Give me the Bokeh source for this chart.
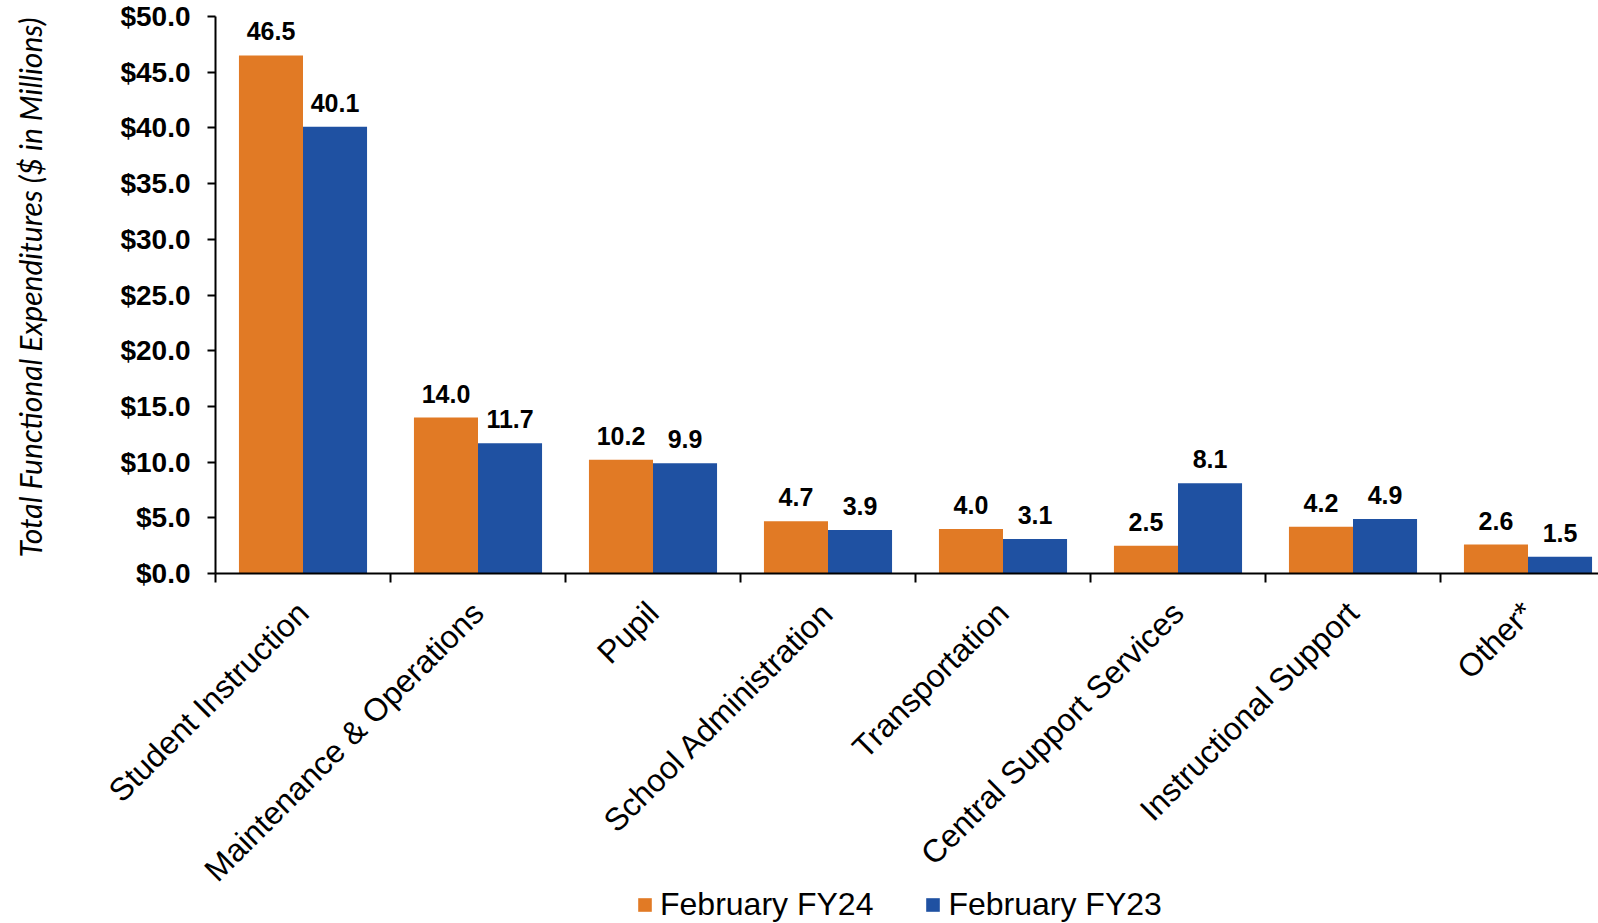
import math
from bokeh.plotting import figure
from bokeh.models import (ColumnDataSource, Range1d, FixedTicker, PrintfTickFormatter,
                          LabelSet, Label, LinearAxis, Legend, LegendItem)
from bokeh.embed import file_html
from bokeh.resources import INLINE
from bokeh.core.properties import value

categories = ["Student Instruction", "Maintenance & Operations", "Pupil",
              "School Administration", "Transportation", "Central Support Services",
              "Instructional Support", "Other*"]
fy24 = [46.5, 14.0, 10.2, 4.7, 4.0, 2.5, 4.2, 2.6]
fy23 = [40.1, 11.7, 9.9, 3.9, 3.1, 8.1, 4.9, 1.5]
series_names = ["February FY24", "February FY23"]
y_ticks = [0, 5, 10, 15, 20, 25, 30, 35, 40, 45, 50]
y_title = "Total Functional Expenditures ($ in Millions)"

ORANGE = "#E17A25"
BLUE = "#1F51A2"

n = len(categories)
idx = list(range(n))
bar_w = 0.366

src24 = ColumnDataSource(dict(x=[i + 0.5 - bar_w / 2 for i in idx], top=fy24,
                              lab=[f"{v:.1f}" for v in fy24]))
src23 = ColumnDataSource(dict(x=[i + 0.5 + bar_w / 2 for i in idx], top=fy23,
                              lab=[f"{v:.1f}" for v in fy23]))

# layout (pixels)
W, H = 1598, 923
LEFT, TOP, BASE = 215, 16, 573
CAT_PX = 175.0
px_per_unit = (BASE - TOP) / 50.0
x_lo = -LEFT / CAT_PX
x_hi = (W - LEFT) / CAT_PX
y_lo = -(H - BASE) / px_per_unit
y_hi = 50 + TOP / px_per_unit

p = figure(width=W, height=H, output_backend="svg", toolbar_location=None,
           x_range=Range1d(x_lo, x_hi), y_range=Range1d(y_lo, y_hi),
           x_axis_location=None, y_axis_location=None,
           min_border=0, min_border_left=0, min_border_right=0, min_border_top=0,
           min_border_bottom=0)
p.outline_line_color = None
p.grid.grid_line_color = None
p.background_fill_color = "white"
p.border_fill_color = "white"

r24 = p.vbar(x="x", top="top", width=bar_w, source=src24, fill_color=ORANGE,
             line_color=None)
r23 = p.vbar(x="x", top="top", width=bar_w, source=src23, fill_color=BLUE,
             line_color=None)

for s in (src24, src23):
    p.add_layout(LabelSet(x="x", y="top", text="lab", source=s, text_align="center",
                          text_baseline="alphabetic", y_offset=15,
                          text_font=value("Liberation Sans"), text_font_style="bold",
                          text_font_size="25px", text_color="black"))

# x axis, fixed at y = 0
xa = LinearAxis(fixed_location=0, bounds=(0, x_hi))
xa.ticker = FixedTicker(ticks=[i + 0.5 for i in idx], minor_ticks=list(range(n)))
xa.major_label_overrides = {i + 0.5: c for i, c in enumerate(categories)}
xa.major_tick_line_color = None
xa.minor_tick_line_color = "black"
xa.minor_tick_line_width = 2
xa.minor_tick_out = 9
xa.minor_tick_in = 0
xa.axis_line_color = "black"
xa.axis_line_width = 2
xa.major_label_orientation = math.pi / 4
xa.major_label_standoff = 25
xa.major_label_text_font = "Liberation Sans"
xa.major_label_text_font_size = "32px"
xa.major_label_text_color = "black"
p.add_layout(xa, "below")

# y axis, fixed at x = 0
ya = LinearAxis(fixed_location=0, bounds=(0, 50))
ya.ticker = FixedTicker(ticks=y_ticks)
ya.formatter = PrintfTickFormatter(format="$%.1f")
ya.major_tick_out = 8
ya.major_tick_in = 0
ya.major_tick_line_width = 2
ya.minor_tick_line_color = None
ya.axis_line_width = 2
ya.major_label_standoff = 17
ya.major_label_text_font = "Liberation Sans"
ya.major_label_text_font_style = "bold"
ya.major_label_text_font_size = "28px"
ya.major_label_text_color = "black"
p.add_layout(ya, "left")

# y axis title
p.add_layout(Label(x=(29 - LEFT) / CAT_PX, y=(BASE - 287) / px_per_unit,
                   text=y_title, angle=math.pi / 2, text_align="center",
                   text_baseline="middle", text_font="Lato",
                   text_font_style="italic", text_font_size="30px",
                   text_color="black"))

legend = Legend(items=[LegendItem(label=series_names[0], renderers=[r24]),
                       LegendItem(label=series_names[1], renderers=[r23])],
                orientation="horizontal", location=(636, 0),
                glyph_width=17, glyph_height=17, label_standoff=7, spacing=51,
                padding=0, margin=0, border_line_color=None,
                background_fill_alpha=0,
                label_text_font="Liberation Sans", label_text_font_size="32px",
                label_text_color="black")
p.add_layout(legend, "center")

open("out.html", "w").write(file_html(p, INLINE))
